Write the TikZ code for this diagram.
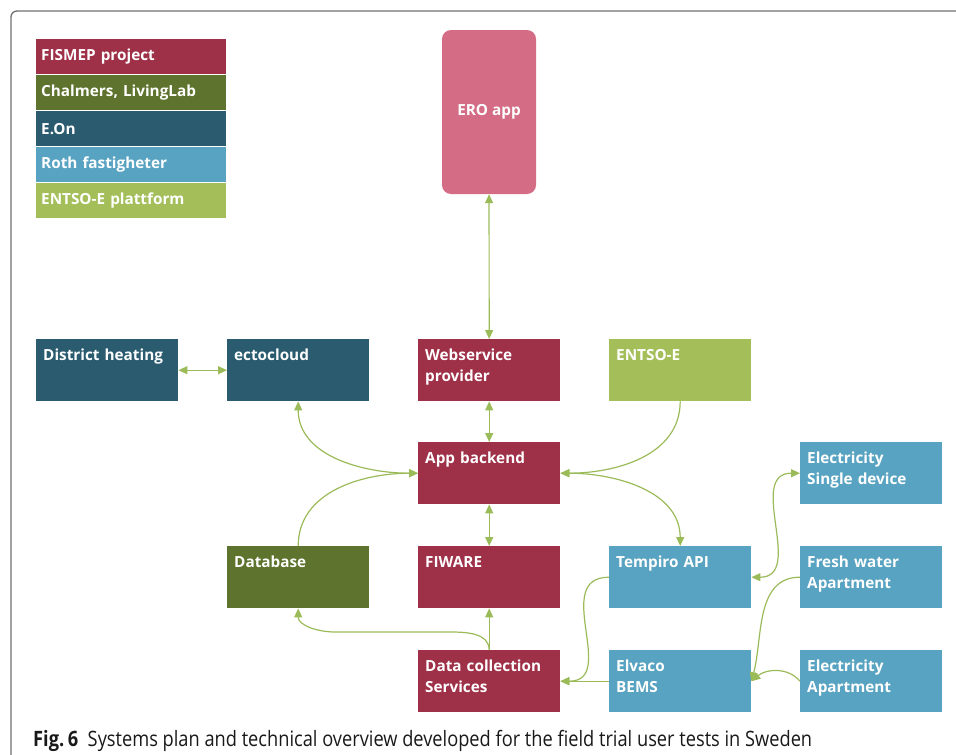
\documentclass[tikz,border=0pt]{standalone}
\usepackage{fontspec}
\setsansfont{Open Sans}
\newfontfamily\capfont[FakeStretch=0.86]{Open Sans}
\usetikzlibrary{arrows.meta}

\definecolor{fismep}{HTML}{9E3048}
\definecolor{chalmers}{HTML}{5E732D}
\definecolor{eon}{HTML}{2A5B6F}
\definecolor{roth}{HTML}{58A3C1}
\definecolor{entso}{HTML}{A4BF5A}
\definecolor{eroapp}{HTML}{D46C85}
\definecolor{linkgreen}{HTML}{9BBB59}
\definecolor{framegray}{HTML}{707070}

\tikzset{
  unit/.style={fill=#1, anchor=north west, inner sep=0pt,
    minimum width=142pt, minimum height=62pt, text width=128pt, align=left,
    text height=21pt, text depth=41pt, text=white,
    font=\sffamily\bfseries\fontsize{15.3}{21}\selectfont},
  legend/.style={fill=#1, anchor=north west, inner sep=0pt,
    minimum width=190pt, minimum height=35pt, text width=180pt, align=left,
    text=white, font=\sffamily\bfseries\fontsize{15.3}{21}\selectfont},
  link/.style={draw=linkgreen, line width=1.2pt},
  >={Triangle[length=9pt,width=8pt]}
}

\begin{document}
\begin{tikzpicture}[x=1pt,y=-1pt]
    \useasboundingbox (0,0) rectangle (956,755);
    \draw[framegray, line width=1.3pt, rounded corners=6pt] (11,11) rectangle (990,790);

    % legend
    \node[legend=fismep] (legfismep) at (36,39) {FISMEP project};
    \node[legend=chalmers] (legchalmers) at (36,75) {Chalmers, LivingLab};
    \node[legend=eon] (legeon) at (36,111) {E.On};
    \node[legend=roth] (legroth) at (36,147) {Roth fastigheter};
    \node[legend=entso] (legentso) at (36,183) {ENTSO-E plattform};

    \node[fill=eroapp, rounded corners=9pt, minimum width=94pt, minimum height=164pt,
      text=white, font=\sffamily\bfseries\fontsize{15.3}{21}\selectfont] (ero) at (489,112) {ERO app};

    \node[unit=eon] (dh) at (36,339) {District heating};
    \node[unit=eon] (ecto) at (227,339) {ectocloud};
    \node[unit=fismep] (web) at (418,339) {Webservice\\provider};
    \node[unit=entso] (entsoe) at (609,339) {ENTSO-E};
    \node[unit=fismep] (backend) at (418,442) {App backend};
    \node[unit=roth] (single) at (800,442) {Electricity\\Single device};
    \node[unit=chalmers] (db) at (227,546) {Database};
    \node[unit=fismep] (fiware) at (418,546) {FIWARE};
    \node[unit=roth] (tempiro) at (609,546) {Tempiro API};
    \node[unit=roth] (water) at (800,546) {Fresh water\\Apartment};
    \node[unit=fismep] (collect) at (418,650) {Data collection\\Services};
    \node[unit=roth] (elvaco) at (609,650) {Elvaco\\BEMS};
    \node[unit=roth] (elapt) at (800,650) {Electricity\\Apartment};

    \draw[link, <->] (ero) -- (web);
    \draw[link, <->] (dh) -- (ecto);
    \draw[link, <->] (web) -- (backend);
    \draw[link, <->] (backend) -- (fiware);
    \draw[link, <->] (ecto.south) to[out=-90, in=180] (backend.west);
    \draw[link, ->] (db.north) to[out=90, in=180] (backend.west);
    \draw[link, ->] (entsoe.south) to[out=-90, in=0] (backend.east);
    \draw[link, <->] (backend.east) to[out=0, in=90] (tempiro.north);
    \draw[link, <->] (tempiro.east) to[out=0, in=180, looseness=1.2] (single.west);
    \draw[link, ->] (tempiro.west) to[out=180, in=0, looseness=1.3] (collect.east);
    \draw[link, ->] (elvaco) -- (collect);
    \draw[link, ->] (water.west) to[out=180, in=75] (elvaco.east);
    \draw[link, ->] (elapt.west) to[out=130, in=40] (elvaco.east);
    \draw[link, ->] (collect) -- (fiware);
    \draw[link, ->] (collect.north) to[out=90, in=0] (450,632) -- (335,632) to[out=180, in=-90] (db.south);

    \node[anchor=base west, inner sep=0pt, text=black!90,
      font=\capfont\fontsize{21.2}{25}\selectfont] (caption) at (33,746)
      {{\bfseries Fig.\,6}\hspace{0.45em}Systems plan and technical overview developed for the field trial user tests in Sweden};
\end{tikzpicture}
\end{document}
